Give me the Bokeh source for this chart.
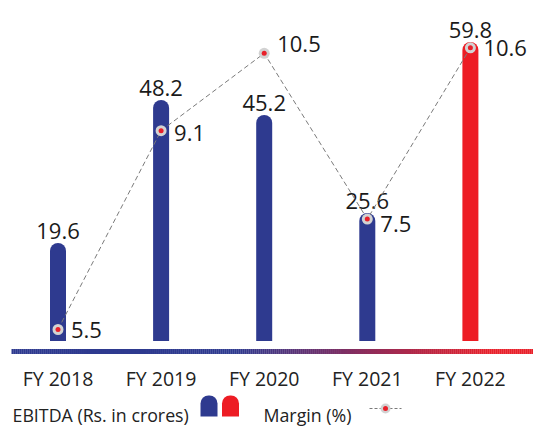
from bokeh.plotting import figure
from bokeh.models import Range1d
from bokeh.core.properties import value
from bokeh.embed import file_html
from bokeh.resources import INLINE

categories = ["FY 2018", "FY 2019", "FY 2020", "FY 2021", "FY 2022"]
ebitda = [19.6, 48.2, 45.2, 25.6, 59.8]
margin = [5.5, 9.1, 10.5, 7.5, 10.6]
ebitda_labels = ["19.6", "48.2", "45.2", "25.6", "59.8"]
margin_labels = ["5.5", "9.1", "10.5", "7.5", "10.6"]

BLUE = "#2e3a8f"
RED = "#ed1c24"
FONT = value("Open Sans")

# page-pixel layout (figure placed at page offset OFF)
OFF = 0
W, H = 533, 426
X0, DX = 57.5 - OFF, 103.1    # pixel position of first category, spacing
BASE, PPU = 340.5 - OFF, 5.0  # pixel baseline for ebitda, pixels per unit
M_REF, M_PIX, M_PPU = 5.5, 329.0 - OFF, 55.24

def px2x(px):  # page px -> data x
    return (px - OFF - X0) / DX

def py2y(py):  # page px -> data y
    return (BASE - (py - OFF)) / PPU

xs = list(range(len(categories)))
bar_colors = [BLUE] * (len(categories) - 1) + [RED]

p = figure(width=W, height=H, output_backend="svg", toolbar_location=None,
           x_range=Range1d(px2x(OFF), px2x(OFF + W)),
           y_range=Range1d(py2y(OFF + H), py2y(OFF)),
           min_border=0, min_border_left=0, min_border_right=0,
           min_border_top=0, min_border_bottom=0)
p.extra_y_ranges = {"m": Range1d(M_REF - (H - M_PIX) / M_PPU, M_REF + M_PIX / M_PPU)}
p.axis.visible = False
p.grid.visible = False
p.outline_line_color = None
p.background_fill_color = "white"

# bars
bw = 16 / DX
p.vbar(x=xs, top=ebitda, bottom=0, width=bw, fill_color=bar_colors,
       line_color=None, border_radius=(8, 8, 0, 0))

# ebitda labels
p.text(x=xs, y=ebitda, text=ebitda_labels, text_align="center",
       text_baseline="alphabetic", y_offset=-12, text_font=FONT,
       text_font_size="22px", text_color="#1a1a1a")

# gradient axis line
def hexrgb(h):
    return tuple(int(h[i:i + 2], 16) for i in (1, 3, 5))

b_rgb, r_rgb = hexrgb(BLUE), hexrgb("#e8202a")
g0, g1 = px2x(235), px2x(490)
n = 260
xa, xb = px2x(11), px2x(OFF + W)
segx0, segx1, segc = [], [], []
for i in range(n):
    a = xa + (xb - xa) * i / n
    b = xa + (xb - xa) * (i + 1) / n
    m = (a + b) / 2
    t = min(1, max(0, (m - g0) / (g1 - g0)))
    c = tuple(int(round(b_rgb[k] + (r_rgb[k] - b_rgb[k]) * t)) for k in range(3))
    segx0.append(a)
    segx1.append(b + 0.002)
    segc.append("#%02x%02x%02x" % c)
ly = py2y(351)
p.segment(x0=segx0, y0=[ly] * n, x1=segx1, y1=[ly] * n, line_color=segc,
          line_width=5)

# category tick labels
p.text(x=xs, y=[py2y(378)] * len(xs), text=categories, text_align="center",
       text_baseline="alphabetic", text_font=FONT, text_font_size="19.5px",
       text_color="#222222")

# margin line
p.line(x=xs, y=margin, y_range_name="m", line_color="#7a7a7a", line_width=1,
       line_dash="5 3")
p.scatter(x=xs, y=margin, y_range_name="m", size=11, fill_color="#d2d2d2",
          line_color=None)
p.scatter(x=xs, y=margin, y_range_name="m", size=5, fill_color="#e8202a",
          line_color=None)
label_dy = [0, 2, -9, 5, 0]
for i in range(len(xs)):
    p.text(x=[xs[i]], y=[margin[i]], text=[margin_labels[i]], y_range_name="m",
           text_align="left", text_baseline="middle", x_offset=13,
           y_offset=label_dy[i], text_font=FONT, text_font_size="22px",
           text_color="#1a1a1a")

# legend
p.text(x=[px2x(12)], y=[py2y(414)], text=["EBITDA (Rs. in crores)"],
       text_align="left", text_baseline="alphabetic", text_font=FONT,
       text_font_size="17.8px", text_color="#222222")
p.vbar(x=[px2x(208.5), px2x(230)], top=[py2y(395)] * 2, bottom=[py2y(416)] * 2,
       width=17 / DX, fill_color=[BLUE, RED], line_color=None,
       border_radius=(8, 8, 0, 0))
p.text(x=[px2x(263)], y=[py2y(414)], text=["Margin (%)"],
       text_align="left", text_baseline="alphabetic", text_font=FONT,
       text_font_size="17.8px", text_color="#222222")
p.line(x=[px2x(369), px2x(401)], y=[py2y(408)] * 2, line_color="#7a7a7a",
       line_width=1, line_dash="3 2")
p.scatter(x=[px2x(385)], y=[py2y(408)], size=10, fill_color="#d2d2d2",
          line_color=None)
p.scatter(x=[px2x(385)], y=[py2y(408)], size=5, fill_color="#e8202a",
          line_color=None)

open("out.html", "w").write(file_html(p, INLINE))
